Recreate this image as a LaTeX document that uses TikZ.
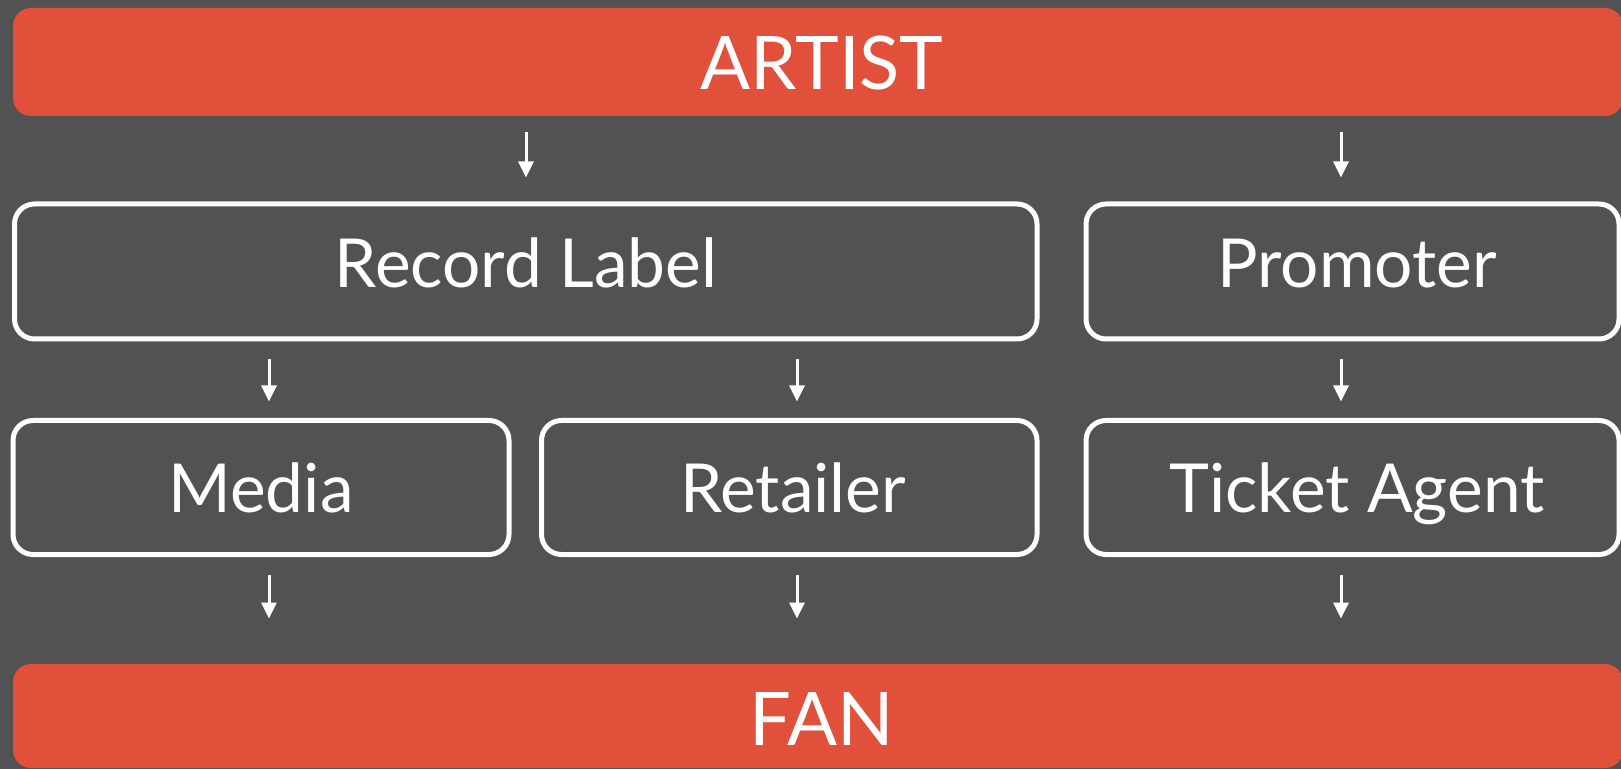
\documentclass[tikz,border=0pt]{standalone}
\usepackage{fontspec}
\setmainfont{Lato}
\usetikzlibrary{arrows.meta,calc}
\definecolor{bg}{HTML}{525252}
\definecolor{accent}{HTML}{E0503A}
\begin{document}
\begin{tikzpicture}[x=0.5pt,y=-0.5pt,
  bar/.style={fill=accent, draw=none, rounded corners=9pt, minimum width=805pt, inner sep=0pt},
  box/.style={draw=white, line width=2.5pt, rounded corners=10pt, minimum height=67.5pt, inner sep=0pt},
  bigtxt/.style={text=white, font=\fontsize{37}{44}\selectfont, anchor=base, inner sep=0pt},
  txt/.style={text=white, font=\fontsize{33.8}{40}\selectfont, anchor=base, inner sep=0pt},
  arr/.style={draw=white, line width=1.5pt, -{Triangle[width=7.5pt,length=8pt]}}]
\useasboundingbox (0,0) rectangle (1621,769);
\fill[bg] (0,0) rectangle (1621,769);
% bars
\node[bar, minimum height=54pt] (artist) at (818,62) {};
\node[bar, minimum height=52pt] (fan) at (818,716) {};
% boxes
\node[box, minimum width=511.25pt] (recordlabel) at (525.75,271.5) {};
\node[box, minimum width=266.5pt] (promoter) at (1352.5,271.5) {};
\node[box, minimum width=248pt, minimum height=67pt] (media) at (261,487.5) {};
\node[box, minimum width=247.75pt, minimum height=67pt] (retailer) at (789.25,487.5) {};
\node[box, minimum width=266.5pt, minimum height=67pt] (ticket) at (1352.5,487.5) {};
% texts
\node[bigtxt] (tartist) at (822,90) {ARTIST};
\node[bigtxt] (tfan) at (822,745) {FAN};
\node[txt] (trecord) at (526,288) {Record Label};
\node[txt] (tpromoter) at (1357,288) {Promoter};
\node[txt] (tmedia) at (261,512) {Media};
\node[txt] (tretailer) at (793,512) {Retailer};
\node[txt] (tticket) at (1357,512) {Ticket Agent};
% columns
\coordinate (colL) at (526,0);
\coordinate (colM) at (269,0);
\coordinate (colR) at (797,0);
\coordinate (colP) at (1341,0);
% arrows
\draw[arr] ($(artist.south -| colL)+(0,16)$) -- ($(recordlabel.north -| colL)+(0,-24)$);
\draw[arr] ($(artist.south -| colP)+(0,16)$) -- ($(promoter.north -| colP)+(0,-24)$);
\draw[arr] ($(recordlabel.south -| colM)+(0,18)$) -- ($(media.north -| colM)+(0,-16.5)$);
\draw[arr] ($(recordlabel.south -| colR)+(0,18)$) -- ($(retailer.north -| colR)+(0,-16.5)$);
\draw[arr] ($(promoter.south -| colP)+(0,18)$) -- ($(ticket.north -| colP)+(0,-16.5)$);
\draw[arr] ($(media.south -| colM)+(0,17.5)$) -- ($(fan.north -| colM)+(0,-45)$);
\draw[arr] ($(retailer.south -| colR)+(0,17.5)$) -- ($(fan.north -| colR)+(0,-45)$);
\draw[arr] ($(ticket.south -| colP)+(0,17.5)$) -- ($(fan.north -| colP)+(0,-45)$);
\end{tikzpicture}
\end{document}
